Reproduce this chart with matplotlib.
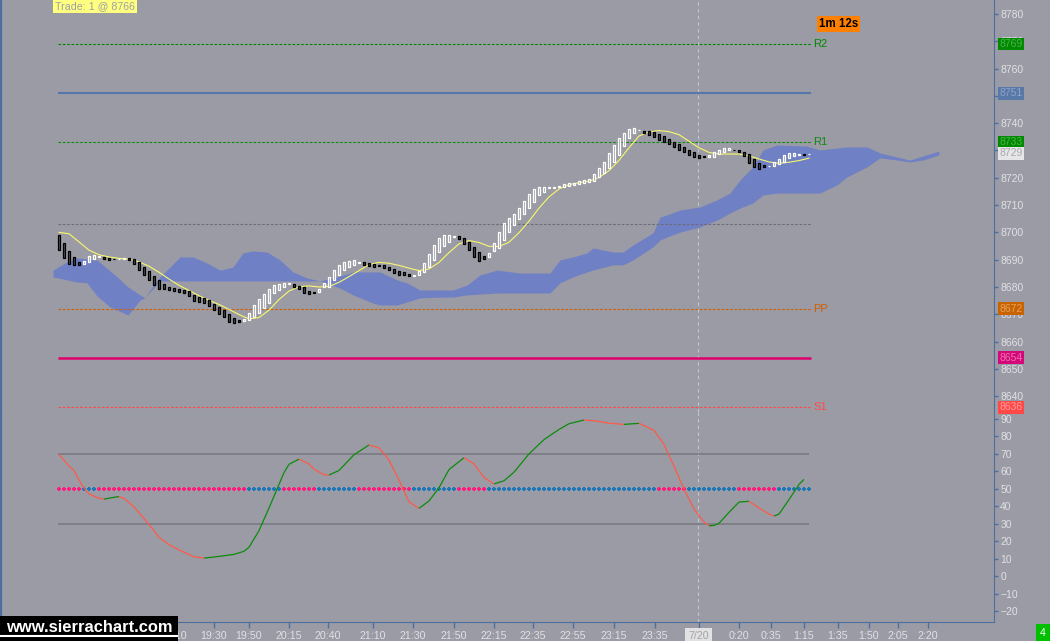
import matplotlib as mpl
mpl.use('Agg')
import matplotlib.pyplot as plt
from matplotlib import rcParams
from matplotlib.collections import LineCollection
from matplotlib.patches import Rectangle
from matplotlib.lines import Line2D
from matplotlib.transforms import blended_transform_factory
import numpy as np

rcParams['font.family'] = ['Liberation Sans', 'DejaVu Sans']
rcParams['font.size'] = 7.5

# ---- candles (heikin-ashi style boxes), one per bar ----
opens = [8699.0, 8696.0, 8693.3, 8690.9, 8689.2, 8688.5, 8689.0, 8690.1, 8691.0, 8690.9,
         8690.5, 8690.4, 8690.2, 8690.3, 8690.5, 8690.1, 8689.3, 8687.4, 8686.0, 8684.2,
         8682.6, 8681.1, 8679.9, 8679.5, 8679.1, 8678.8, 8678.5, 8677.1, 8676.2, 8675.9,
         8675.2, 8673.8, 8672.8, 8671.6, 8670.0, 8668.5, 8667.9, 8667.4, 8667.9, 8668.9,
         8670.4, 8672.3, 8674.0, 8677.9, 8678.9, 8680.1, 8681.1, 8681.0, 8680.5, 8679.9,
         8678.7, 8678.0, 8678.2, 8679.9, 8680.1, 8682.6, 8684.3, 8686.2, 8687.5, 8688.1,
         8688.8, 8689.0, 8688.7, 8688.4, 8688.0, 8687.9, 8687.4, 8686.7, 8686.0, 8685.6,
         8684.9, 8684.2, 8684.3, 8685.6, 8687.5, 8689.9, 8692.9, 8695.0, 8696.6, 8698.3,
         8698.7, 8697.8, 8696.6, 8694.8, 8692.9, 8691.3, 8691.1, 8693.3, 8694.2, 8697.2,
         8700.3, 8702.7, 8704.8, 8706.6, 8708.8, 8711.3, 8713.7, 8714.9, 8716.3, 8716.3,
         8716.5, 8716.8, 8717.1, 8717.4, 8717.7, 8718.2, 8718.5, 8718.9, 8720.2, 8721.6,
         8723.5, 8725.9, 8728.4, 8731.6, 8734.5, 8736.3, 8737.4, 8737.3, 8737.1, 8736.7,
         8736.0, 8735.3, 8734.1, 8733.2, 8732.3, 8731.4, 8730.2, 8729.3, 8728.4, 8727.8,
         8727.5, 8727.7, 8728.7, 8729.3, 8730.0, 8730.3, 8730.2, 8729.6, 8728.6, 8726.9,
         8725.3, 8724.7, 8724.3, 8724.3, 8725.1, 8725.7, 8727.1, 8728.0, 8728.5, 8728.7,
         8728.6]
closes = [8693.5, 8690.5, 8688.4, 8688.1, 8688.0, 8689.6, 8691.4, 8691.7, 8691.2, 8690.1,
          8689.8, 8690.2, 8690.4, 8690.5, 8689.8, 8688.3, 8686.1, 8684.3, 8682.4, 8680.6,
          8679.1, 8679.1, 8678.9, 8678.7, 8678.3, 8677.7, 8676.7, 8675.0, 8674.5, 8674.0,
          8673.0, 8671.6, 8670.1, 8669.1, 8667.3, 8666.9, 8667.2, 8668.4, 8670.4, 8673.3,
          8675.7, 8677.4, 8679.4, 8680.6, 8681.1, 8681.3, 8681.3, 8680.1, 8679.1, 8677.7,
          8677.3, 8677.8, 8679.4, 8681.6, 8683.5, 8686.2, 8687.9, 8689.2, 8689.4, 8689.9,
          8689.0, 8688.2, 8687.7, 8687.5, 8687.8, 8686.9, 8686.2, 8685.2, 8684.4, 8684.5,
          8684.0, 8684.4, 8686.0, 8688.7, 8692.1, 8695.4, 8697.8, 8699.0, 8699.2, 8698.5,
          8697.6, 8695.8, 8693.6, 8691.1, 8689.5, 8690.1, 8692.6, 8696.2, 8700.3, 8703.3,
          8705.2, 8706.6, 8708.8, 8711.6, 8714.1, 8715.8, 8716.8, 8716.8, 8716.5, 8716.5,
          8717.0, 8717.7, 8718.0, 8718.2, 8718.7, 8719.1, 8719.4, 8721.4, 8723.5, 8725.9,
          8729.0, 8732.0, 8734.5, 8736.5, 8737.8, 8738.1, 8737.6, 8736.3, 8735.7, 8734.8,
          8733.9, 8733.2, 8732.4, 8731.2, 8730.2, 8729.3, 8728.4, 8727.7, 8727.1, 8727.6,
          8728.4, 8729.3, 8730.2, 8730.8, 8730.8, 8730.1, 8729.3, 8728.1, 8725.3, 8724.1,
          8723.2, 8723.8, 8724.5, 8725.7, 8726.8, 8728.4, 8729.0, 8729.0, 8728.7, 8728.5,
          8728.8]

# yellow moving average (every 2nd bar)
ma_x = list(range(0, 151, 2))
ma_y = [8700.0, 8699.5, 8696.5, 8693.5, 8691.8, 8691.0, 8690.5, 8690.2, 8689.2, 8687.6,
        8685.4, 8682.9, 8680.6, 8678.7, 8676.8, 8675.1, 8673.6, 8671.8, 8669.9, 8668.3,
        8668.8, 8671.5, 8675.4, 8678.5, 8680.1, 8680.4, 8680.0, 8680.2, 8681.7, 8683.8,
        8686.0, 8688.2, 8689.0, 8688.7, 8687.9, 8686.9, 8686.0, 8686.6, 8689.0, 8692.6,
        8695.8, 8697.0, 8696.3, 8694.9, 8694.8, 8696.4, 8699.9, 8704.1, 8708.9, 8713.0,
        8715.9, 8717.5, 8718.2, 8718.8, 8720.1, 8722.6, 8726.4, 8731.0, 8735.3, 8736.8,
        8737.3, 8736.9, 8735.8, 8733.4, 8731.0, 8729.3, 8728.7, 8728.7, 8728.7, 8728.0,
        8726.9, 8725.8, 8725.3, 8725.7, 8726.3, 8727.2]

# ichimoku cloud envelope (shifted 26 bars ahead)
cloud_x = [-1.2, 1.6, 3.6, 5.6, 7.6, 10.2, 11.6, 13.8, 16.2, 17.2, 18.2, 20.2, 21.6, 24.2,
           26.8, 29.6, 32.2, 34.8, 36.8, 38.8, 41.6, 44.2, 46.8, 49.6, 52.2, 56.2, 58.8,
           62.8, 64.2, 67.6, 69.6, 72.2, 76.2, 78.8, 81.6, 84.2, 87.6, 92.2, 98.2, 100.2,
           102.8, 105.6, 106.8, 110.8, 112.8, 114.8, 118.8, 120.2, 121.6, 124.2, 128.2,
           131.6, 134.2, 136.2, 138.8, 140.8, 143.6, 149.6, 152.2, 155.6, 157.6, 161.6,
           164.2, 167.6, 170.2, 172.8, 176.0]
cloud_hi = [8686.2, 8689.2, 8690.6, 8690.3, 8689.9, 8685.9, 8683.7, 8680.0, 8677.1, 8676.0,
            8678.9, 8683.7, 8686.2, 8691.0, 8691.0, 8688.8, 8686.2, 8687.3, 8692.5, 8693.2,
            8692.8, 8689.9, 8685.5, 8683.3, 8682.2, 8684.0, 8685.5, 8685.5, 8685.5, 8682.6,
            8681.5, 8678.9, 8678.9, 8678.9, 8680.7, 8684.4, 8686.2, 8685.1, 8685.1, 8689.9,
            8691.0, 8692.5, 8694.3, 8692.8, 8692.8, 8695.4, 8699.8, 8705.6, 8706.4, 8708.2,
            8709.3, 8711.9, 8714.4, 8719.2, 8724.0, 8730.2, 8732.0, 8731.6, 8730.2, 8730.9,
            8731.3, 8731.3, 8729.1, 8727.6, 8726.5, 8728.0, 8729.8]
cloud_lo = [8683.7, 8682.6, 8681.8, 8681.5, 8676.7, 8672.7, 8671.6, 8669.7, 8675.2, 8676.0,
            8678.2, 8682.2, 8682.2, 8682.2, 8682.2, 8682.2, 8682.2, 8682.2, 8682.2, 8682.2,
            8682.2, 8682.2, 8682.2, 8682.2, 8682.2, 8679.6, 8677.1, 8674.1, 8673.4, 8673.4,
            8674.5, 8676.0, 8676.3, 8676.3, 8677.1, 8677.4, 8677.8, 8677.8, 8677.8, 8681.5,
            8683.7, 8685.5, 8686.2, 8688.1, 8688.1, 8689.9, 8694.7, 8697.2, 8698.3, 8700.1,
            8702.0, 8704.5, 8707.1, 8708.9, 8710.8, 8713.7, 8714.4, 8714.4, 8714.4, 8717.4,
            8720.3, 8724.0, 8727.3, 8726.5, 8725.8, 8726.5, 8728.4]

# pivot levels
level_vals = [8769, 8751, 8733, 8703, 8672, 8654, 8636]
level_names = ['R2', '', 'R1', '', 'PP', '', 'S1']

# oscillator
osc_x = [0, 2, 3, 4, 5, 6, 8, 9, 11, 12, 13, 15, 17, 19, 20, 22, 24, 27, 29, 31,
         35, 37, 38, 40, 42, 44, 45, 46, 48, 50, 51, 53, 54, 56, 59, 62, 64, 66, 68, 70,
         72, 74, 76, 78, 81, 83, 85, 87, 89, 91, 94, 97, 100, 102, 105, 107, 110, 113, 116, 119,
         121, 123, 125, 127, 129, 130, 131, 132, 134, 136, 138, 140, 142, 143, 144, 146, 148, 149]
osc_y = [69.7, 63.0, 60.5, 55.0, 50.5, 47.0, 44.6, 44.1, 45.1, 45.5, 44.6, 39.6, 33.0, 26.0,
         22.2, 18.0, 15.0, 11.0, 10.3, 10.9, 12.4, 14.2, 16.5, 26.0, 39.0, 52.5, 59.3, 64.0,
         67.0, 64.3, 61.2, 58.0, 57.9, 60.5, 69.5, 75.1, 73.5, 66.5, 55.0, 42.5, 38.8, 43.0,
         50.6, 61.0, 67.8, 64.3, 56.5, 52.8, 54.6, 59.5, 70.0, 78.2, 84.0, 87.3, 89.4, 89.0,
         87.6, 86.9, 87.5, 83.5, 75.5, 63.0, 49.8, 38.5, 31.0, 28.8, 29.0, 30.2, 36.5, 42.4,
         42.8, 39.0, 35.5, 34.4, 35.5, 43.8, 52.5, 55.4]
# colour runs of the dotted 50 line: (first bar, last bar, state)
dot_runs = [(0, 4, 'dn'), (5, 7, 'up'), (8, 37, 'dn'), (38, 44, 'up'), (45, 51, 'dn'),
            (52, 59, 'up'), (60, 70, 'dn'), (71, 79, 'up'), (80, 85, 'dn'), (86, 119, 'up'),
            (120, 125, 'dn'), (126, 135, 'up'), (136, 143, 'dn'), (144, 150, 'up')]

# time axis
tick_pos = [23, 30.9, 37.9, 45.9, 53.8, 62.8, 70.8, 78.9, 86.9, 94.7, 102.7, 111, 119.1,
            127.9, 136, 142.3, 149, 155.8, 161.9, 167.7, 173.7]
tick_lab = ['19:10', '19:30', '19:50', '20:15', '20:40', '21:10', '21:30', '21:50', '22:15',
            '22:35', '22:55', '23:15', '23:35', '7/20', '0:20', '0:35', '1:15', '1:35',
            '1:50', '2:05', '2:20']
day_break = 127.8

# ---------------------------------------------------------------
W, H = 1050, 641
bg = '#9b9ba5'
spine = '#4d6f9f'
txt = '#dfe1e6'

fig = plt.figure(figsize=(W / 100, H / 100), dpi=100)
fig.patch.set_facecolor(bg)


def px_box(x0, y0, x1, y1):
    return [x0 / W, 1 - y1 / H, (x1 - x0) / W, (y1 - y0) / H]


ax = fig.add_axes(px_box(1, 0, 994, 412))
osc = fig.add_axes(px_box(1, 412, 994, 622), sharex=ax)
for a in (ax, osc):
    a.set_facecolor(bg)
    a.spines['top'].set_visible(False)
    for s in ('left', 'right', 'bottom'):
        a.spines[s].set_color(spine)
    a.spines['left'].set_linewidth(1.6)
    a.yaxis.tick_right()
    a.tick_params(axis='y', direction='out', length=3, width=1, color=spine,
                  labelcolor=txt, labelsize=7.5, pad=1.5)
ax.spines['bottom'].set_visible(False)
ax.tick_params(axis='x', bottom=False, labelbottom=False)

ax.set_xlim(-11.6, 187.0)
ax.set_ylim(8634.2, 8785.13)
osc.set_ylim(-26.33, 94.0)
ax.set_yticks(np.arange(8640, 8781, 10))
osc.set_yticks(np.arange(-20, 91, 10))

# cloud
ax.fill_between(cloud_x, cloud_lo, cloud_hi, color='#7080c4', lw=0, zorder=1)

# pivot lines
lv_col = ['#008800', '#5577aa', '#108a10', '#6c6c7a', '#d06000', '#e0006e', '#ff4a4a']
lv_ls = [(0, (2.4, 1.5)), '-', (0, (2.4, 1.5)), (0, (2.4, 1.5)), (0, (2.4, 1.5)), '-',
         (0, (2.4, 1.5))]
lv_lw = [0.8, 1.5, 0.8, 0.8, 0.8, 1.8, 0.8]
for v, n, c, ls, lw in zip(level_vals, level_names, lv_col, lv_ls, lv_lw):
    ax.hlines(v, -0.2, 150.4, colors=c, linestyles=ls, lw=lw, zorder=2)
    if n:
        ax.text(150.8, v, n, color=c, fontsize=8, ha='left', va='center', zorder=6)

# candles
x = np.arange(len(opens))
o = np.array(opens)
c = np.array(closes)
up = c >= o
lo = np.minimum(o, c)
hgt = np.maximum(np.abs(c - o), 0.15)
ax.plot(ma_x, ma_y, color='#f8f86c', lw=0.8, zorder=3)
ax.bar(x[up], hgt[up], bottom=lo[up], width=0.56, facecolor=bg, edgecolor='white',
       lw=0.9, zorder=4)
ax.bar(x[~up], hgt[~up], bottom=lo[~up], width=0.56, facecolor='#525256', edgecolor='black',
       lw=0.9, zorder=4)

for a in (ax, osc):
    a.axvline(day_break, color='#c6c6ce', lw=0.8, ls=(0, (3, 3)), zorder=0.5)

# right-hand value boxes
tr = blended_transform_factory(ax.transAxes, ax.transData)
boxes = [(8769, '#008a00', '#4cb04c'), (8751, '#5878a8', '#8ea2c8'),
         (8733, '#008a00', '#4cb04c'), (8729, '#e6e6e8', '#a8a8ae'),
         (8672, '#c86400', '#e6a060'), (8654, '#d4087a', '#ec74ae'),
         (8636, '#ff4848', '#ff9a9a')]
for v, fc, tc in boxes:
    ax.text(1.0053, v, str(v), transform=tr, color=tc, fontsize=7.5, ha='left',
            va='center', clip_on=False, zorder=7,
            bbox=dict(boxstyle='square,pad=0.14', fc=fc, ec='none'))

# oscillator panel
osc.hlines([70, 30], -0.2, 150, colors='#77777f', lw=1.1, zorder=1)
dot_col = {'up': '#1a78b8', 'dn': '#ff1a7c'}
for b0, b1, st in dot_runs:
    bars = np.arange(b0, b1 + 1)
    osc.scatter(bars, np.full(len(bars), 50.0), marker='P', s=11, color=dot_col[st],
                lw=0, zorder=2)
pts = np.column_stack([osc_x, osc_y])
segs = np.stack([pts[:-1], pts[1:]], axis=1)
seg_col = ['#0a8c0a' if b >= a else '#ff5a48' for a, b in zip(osc_y[:-1], osc_y[1:])]
osc.add_collection(LineCollection(segs, colors=seg_col, lw=0.9, zorder=3))

osc.set_xticks(tick_pos)
osc.set_xticklabels(tick_lab)
osc.tick_params(axis='x', direction='out', length=4, width=1, color=spine,
                labelcolor=txt, labelsize=7.7, pad=2.5)
for lbl in osc.get_xticklabels():
    if lbl.get_text() == '7/20':
        lbl.set_color('#a2a2a8')
        lbl.set_bbox(dict(boxstyle='square,pad=0.3', fc='#e2e2e4', ec='none'))

# figure-level labels
fig.text(55 / W, 1 - 6.5 / H, 'Trade: 1 @ 8766', color='#a0a0a4', fontsize=7.7,
         ha='left', va='center',
         bbox=dict(boxstyle='square,pad=0.15', fc='#ffff80', ec='none'))
fig.text(838.5 / W, 1 - 24 / H, '1m 12s', color='black', fontsize=8.3,
         fontweight='bold', ha='center', va='center',
         bbox=dict(boxstyle='square,pad=0.15', fc='#ff8000', ec='none'))

# logo box, text sized to fit its 168 px width
fig.patches.append(Rectangle((0, 0), 178 / W, 25 / H, transform=fig.transFigure,
                             fc='black', ec='none', zorder=5))
fig.lines.append(Line2D([0, 177 / W], [5.5 / H, 5.5 / H], transform=fig.transFigure,
                        color='white', lw=1.5, zorder=6))
logo = fig.text(89 / W, (641 - 627) / H, 'www.sierrachart.com', color='white',
                fontsize=12, fontweight='bold', ha='center', va='center', zorder=7)
rend = fig.canvas.get_renderer()
wpx = logo.get_window_extent(renderer=rend).width
logo.set_fontsize(12 * 166 / wpx)

fig.text(1043 / W, (641 - 632.5) / H, '4', color='white', fontsize=7.5, ha='center',
         va='center', bbox=dict(boxstyle='square,pad=0.35', fc='#00c000', ec='none'))

fig.savefig('out.png', dpi=100, facecolor=bg)
